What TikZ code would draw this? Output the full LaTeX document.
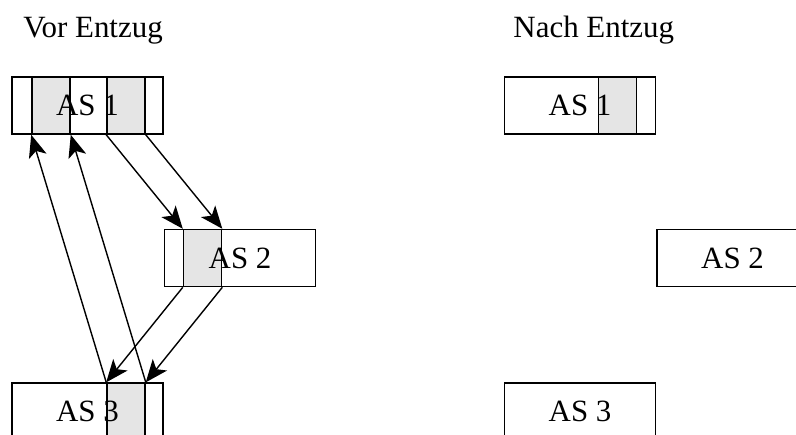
\documentclass[tikz,border=0pt]{standalone}
\usepackage{fontspec}
\setmainfont{Liberation Serif}
\usetikzlibrary{positioning, arrows.meta}

\tikzset{
    as box/.style={draw, line width=1.1pt, minimum width=3.775cm, minimum height=1.425cm, inner sep=0pt},
    cell/.style={draw, fill=black!10, line width=1.1pt, minimum width=0.95cm, minimum height=1.425cm, inner sep=0pt, anchor=north west},
    as text/.style={font=\fontsize{22}{26}\selectfont, inner sep=0pt},
    move/.style={-{Stealth[length=16pt, width=13pt, inset=4pt]}, line width=1pt},
}

\begin{document}
\begin{tikzpicture}[]
    \useasboundingbox (0,0) rectangle (19.9,10.85);

    % left column
    \node (vor 1) at (2.1875,8.2125) [as box] {};
    \node[below=2.35cm of vor 1.south east, anchor=north west] (vor 2) [as box] {};
    \node[below=2.375cm of vor 2.south west, anchor=north east] (vor 3) [as box] {};

    \node[cell, xshift=0.5cm] (vor 1 a) at (vor 1.north west) {};
    \node[cell, xshift=2.375cm] (vor 1 b) at (vor 1.north west) {};
    \node[cell, xshift=0.475cm] (vor 2 a) at (vor 2.north west) {};
    \node[cell, xshift=2.375cm] (vor 3 a) at (vor 3.north west) {};

    \node[as text] at (vor 1) {AS 1};
    \node[as text] at (vor 2) {AS 2};
    \node[as text] at (vor 3) {AS 3};

    \draw[move] (vor 1 b.south west) -- (vor 2 a.north west);
    \draw[move] (vor 1 b.south east) -- (vor 2 a.north east);
    \draw[move] (vor 2 a.south west) -- (vor 3 a.north west);
    \draw[move] (vor 2 a.south east) -- (vor 3 a.north east);
    \draw[move] (vor 3 a.north west) -- (vor 1 a.south west);
    \draw[move] (vor 3 a.north east) -- (vor 1 a.south east);

    % right column
    \node[right=8.5cm of vor 1] (nach 1) [as box] {};
    \node[below=2.35cm of nach 1.south east, anchor=north west] (nach 2) [as box] {};
    \node[below=2.375cm of nach 2.south west, anchor=north east] (nach 3) [as box] {};

    \node[cell, xshift=2.35cm] (nach 1 a) at (nach 1.north west) {};

    \node[as text] at (nach 1) {AS 1};
    \node[as text] at (nach 2) {AS 2};
    \node[as text] at (nach 3) {AS 3};

    % headings
    \node[as text, anchor=base west] (vor title) at (0.575,9.9) {Vor Entzug};
    \node[as text, anchor=base west] (nach title) at (12.83,9.9) {Nach Entzug};
\end{tikzpicture}
\end{document}
